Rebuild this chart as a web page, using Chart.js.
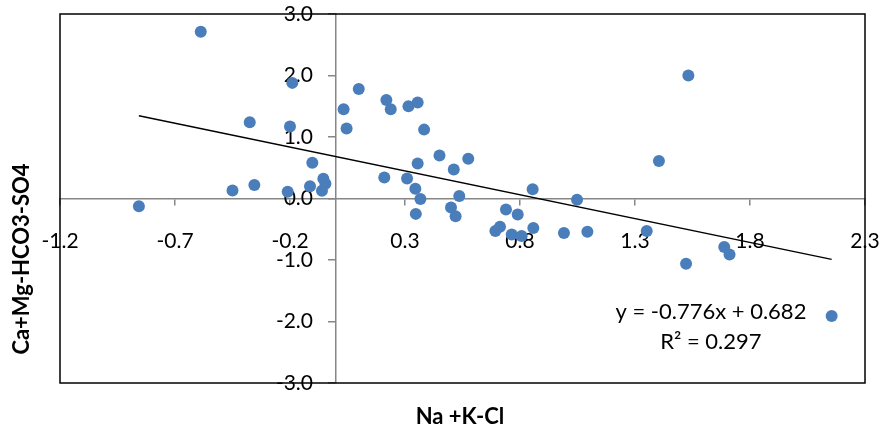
<!DOCTYPE html>
<html>
<head>
<meta charset="utf-8">
<script src="https://cdn.jsdelivr.net/npm/chart.js@4.4.1/dist/chart.umd.min.js"></script>
<style>
  body { margin: 0; background: #fff; }
  #caja { width: 880px; height: 431px; }
</style>
</head>
<body>
<div id="caja"><canvas id="grafica"></canvas></div>
<script>
// valores (Na+K-Cl vs Ca+Mg-HCO3-SO4)
const valoresX = [-0.857, -0.588, -0.45, -0.375, -0.355, -0.21, -0.19, -0.20, -0.113, -0.103,
                  -0.061, -0.055, -0.046, 0.033, 0.046, 0.099, 0.21, 0.219, 0.238, 0.309,
                  0.315, 0.345, 0.347, 0.355, 0.355, 0.367, 0.383, 0.45, 0.50, 0.512,
                  0.52, 0.536, 0.575, 0.693, 0.713, 0.739, 0.764, 0.79, 0.807, 0.855,
                  0.858, 0.991, 1.048, 1.093, 1.351, 1.404, 1.522, 1.532, 1.688, 1.711, 2.155];
const valoresY = [-0.125, 2.71, 0.13, 1.24, 0.22, 0.11, 1.88, 1.17, 0.20, 0.58,
                  0.125, 0.32, 0.24, 1.45, 1.14, 1.78, 0.34, 1.60, 1.45, 0.325,
                  1.50, 0.16, -0.25, 1.56, 0.57, -0.01, 1.12, 0.70, -0.146, 0.47,
                  -0.29, 0.04, 0.645, -0.53, -0.46, -0.18, -0.585, -0.26, -0.61, 0.15,
                  -0.48, -0.56, -0.02, -0.54, -0.53, 0.61, -1.06, 2.0, -0.79, -0.91, -1.91];

// linea de tendencia (extremos)
const lineaX = [-0.857, 2.155];
const lineaY = [1.347, -0.990];

const marcasX = [-1.2, -0.7, -0.2, 0.3, 0.8, 1.3, 1.8, 2.3];
const marcasY = [-3, -2, -1, 0, 1, 2, 3];

const ecuacion = ["y = -0.776x + 0.682", "R\u00B2 = 0.297"];
const tituloX = "Na +K-Cl";
const tituloY = "Ca+Mg-HCO3-SO4";

const fuente = "Lato";
const gris = "#868686";

const marco = {
    id: "marco",
    beforeDatasetsDraw(chart) {
        const { ctx, chartArea: a } = chart;
        ctx.save();
        ctx.strokeStyle = "#000";
        ctx.lineWidth = 1.5;
        ctx.strokeRect(a.left, a.top, a.width, a.height);
        ctx.restore();
    }
};

const textos = {
    id: "textos",
    afterDraw(chart) {
        const { ctx } = chart;
        const sx = chart.scales.x, sy = chart.scales.y;
        ctx.save();
        ctx.fillStyle = "#000";
        ctx.textAlign = "center";
        ctx.textBaseline = "middle";
        ctx.font = "22px " + fuente;
        ctx.fillText(ecuacion[0], sx.getPixelForValue(1.63), sy.getPixelForValue(-1.85));
        ctx.fillText(ecuacion[1], sx.getPixelForValue(1.63), sy.getPixelForValue(-2.33));

        ctx.font = "bold 22px " + fuente;
        ctx.fillText(tituloX, 460, 417);
        ctx.translate(22, 259);
        ctx.rotate(-Math.PI / 2);
        ctx.fillText(tituloY, 0, 0);
        ctx.restore();
    }
};

const ponerMarcas = (lista) => (escala) => {
    escala.ticks = lista.map(v => ({ value: v }));
};

// que las etiquetas no quiten espacio al area del grafico
const sinRelleno = (escala) => {
    escala.paddingLeft = 0;
    escala.paddingRight = 0;
    escala.paddingTop = 0;
    escala.paddingBottom = 0;
};

const puntos = valoresX.map((x, i) => ({ x: x, y: valoresY[i] }));
const tendencia = lineaX.map((x, i) => ({ x: x, y: lineaY[i] }));

new Chart(document.querySelector("#grafica"), {
    type: "scatter",
    data: {
        datasets: [
            {
                type: "line",
                data: tendencia,
                borderColor: "#000",
                borderWidth: 1.5,
                pointRadius: 0,
                fill: false
            },
            {
                data: puntos,
                backgroundColor: "#4A7EBB",
                borderColor: "#4A7EBB",
                borderWidth: 0,
                pointRadius: 6,
                pointHoverRadius: 6
            }
        ]
    },
    options: {
        responsive: true,
        maintainAspectRatio: false,
        animation: false,
        layout: { padding: { left: 60, right: 15, top: 14, bottom: 48 } },
        plugins: { legend: { display: false }, tooltip: { enabled: false } },
        scales: {
            x: {
                type: "linear",
                min: -1.2,
                max: 2.3,
                position: { y: 0 },
                afterBuildTicks: ponerMarcas(marcasX),
                afterFit: sinRelleno,
                ticks: {
                    color: "#000",
                    padding: 24,
                    maxRotation: 0,
                    autoSkip: false,
                    font: { family: fuente, size: 21 },
                    callback: v => v.toFixed(1)
                },
                grid: { drawOnChartArea: false, tickLength: 6, color: gris, lineWidth: 1.5 },
                border: { color: gris, width: 1.5 },
                z: 1
            },
            y: {
                type: "linear",
                min: -3,
                max: 3,
                position: { x: 0 },
                afterBuildTicks: ponerMarcas(marcasY),
                afterFit: sinRelleno,
                ticks: { display: false },
                grid: { drawOnChartArea: false, tickLength: 7, color: gris, lineWidth: 1.5 },
                border: { color: gris, width: 1.5 }
            },
            yEtiq: {
                type: "linear",
                axis: "y",
                min: -3,
                max: 3,
                position: { x: -0.1 },
                afterBuildTicks: ponerMarcas(marcasY),
                afterFit: sinRelleno,
                ticks: {
                    color: "#000",
                    font: { family: fuente, size: 21 },
                    callback: v => v.toFixed(1)
                },
                grid: { display: false },
                border: { display: false },
                z: 1
            }
        }
    },
    plugins: [marco, textos]
});
</script>
</body>
</html>
